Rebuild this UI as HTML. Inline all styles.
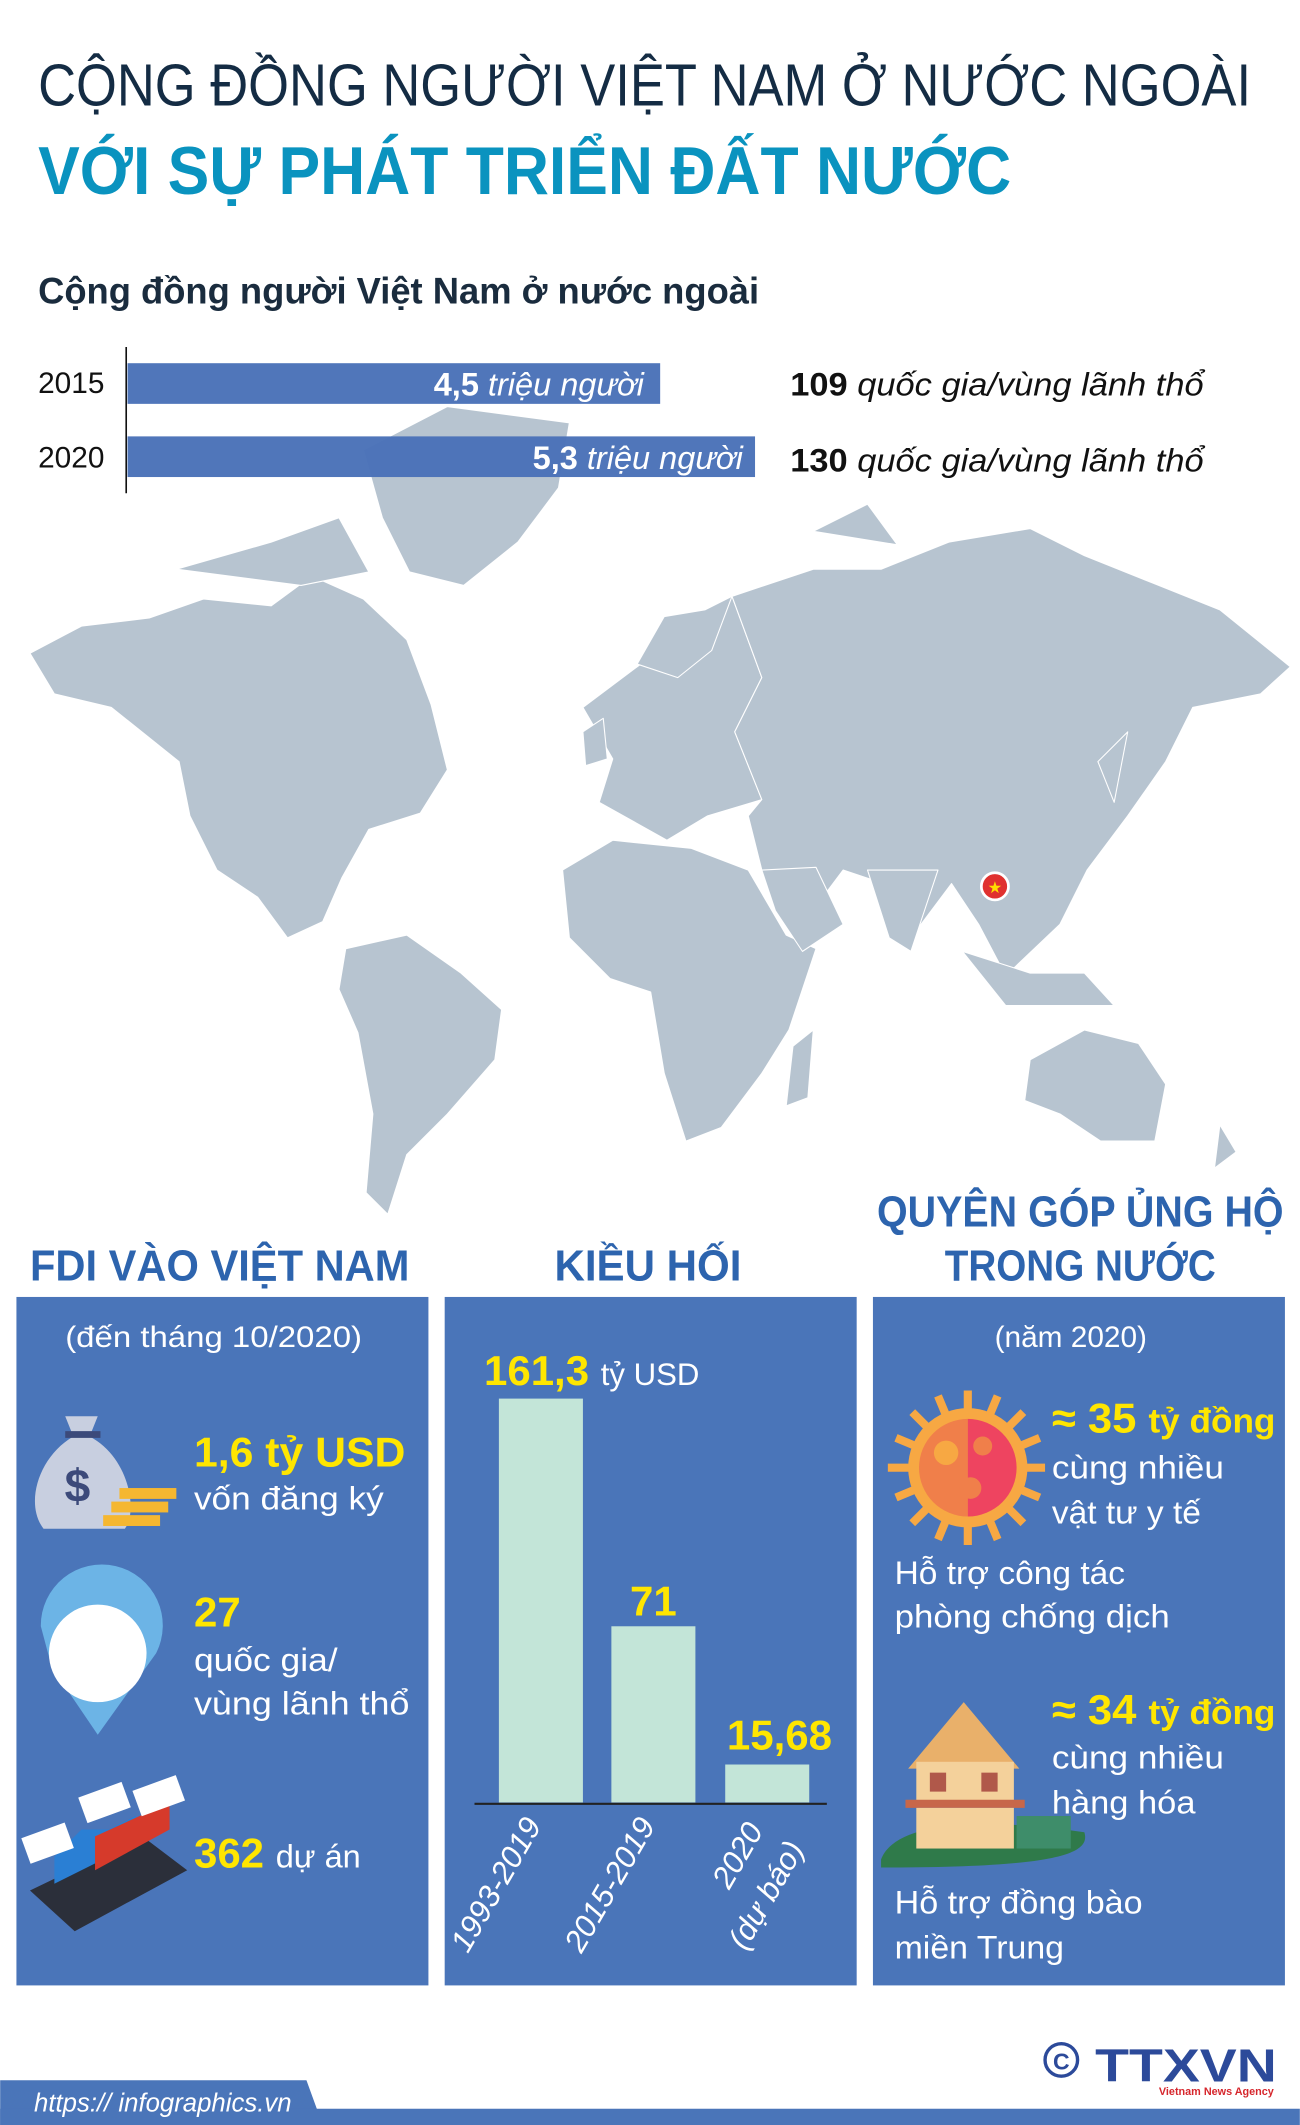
<!DOCTYPE html>
<html><head><meta charset="utf-8"><style>
html,body{margin:0;padding:0;background:#fff;}
svg{display:block;}
text{font-family:"Liberation Sans","DejaVu Sans",sans-serif;}
</style></head><body>
<svg width="1300" height="2125" viewBox="0 0 959 1568" xmlns="http://www.w3.org/2000/svg">
<rect width="959" height="1568" fill="#fff"/>
<!-- map -->
<g fill="#b7c4d0" stroke="#fff" stroke-width="0.8" stroke-linejoin="round">
<path d="M22,482 L60,462 L110,456 L150,442 L200,447 L230,425 L268,442 L300,472 L318,520 L330,568 L310,600 L272,612 L252,648 L238,680 L212,692 L190,662 L160,642 L140,602 L132,562 L82,522 L40,512 Z"/>
<path d="M268,332 L330,300 L420,312 L412,360 L382,400 L342,432 L302,422 L282,382 Z"/>
<path d="M130,420 L200,400 L250,382 L272,422 L222,432 Z"/>
<path d="M255,700 L300,690 L340,718 L370,745 L365,782 L330,822 L300,852 L286,896 L270,880 L275,822 L264,762 L250,730 Z"/>
<path d="M430,522 L470,492 L500,470 L540,440 L562,500 L542,540 L562,590 L522,602 L492,620 L442,592 L452,560 Z"/>
<path d="M470,490 L490,455 L520,450 L540,440 L525,480 L500,500 Z"/>
<path d="M415,642 L452,620 L510,626 L552,642 L580,690 L602,700 L582,760 L562,792 L532,832 L506,842 L490,792 L480,732 L450,722 L420,692 Z"/>
<path d="M585,772 L600,760 L596,810 L580,816 Z"/>
<path d="M540,440 L600,420 L650,420 L700,400 L760,390 L800,410 L850,430 L900,450 L952,492 L930,512 L880,522 L860,562 L832,602 L802,642 L782,682 L742,720 L722,682 L702,652 L672,692 L652,652 L622,642 L592,682 L562,642 L552,602 L562,590 L542,540 L562,500 Z"/>
<path d="M562,642 L602,640 L622,682 L592,702 L572,672 Z"/>
<path d="M640,642 L692,642 L672,702 L656,692 Z"/>
<path d="M710,702 L760,718 L800,718 L822,742 L742,742 Z"/>
<path d="M760,782 L800,760 L840,770 L860,800 L852,842 L812,842 L782,822 L756,812 Z"/>
<path d="M900,830 L912,850 L896,862 Z"/>
<path d="M810,562 L832,540 L822,592 Z"/>
<path d="M600,392 L640,372 L662,402 Z"/>
<path d="M430,540 L445,530 L448,560 L432,565 Z"/>
</g>
<circle cx="734" cy="654" r="10" fill="#e0312f" stroke="#fff" stroke-width="2"/>
<text x="734" y="659" font-size="12" fill="#ffdd00" text-anchor="middle">★</text>

<!-- titles -->
<text x="28" y="78" font-size="44" fill="#142c44" textLength="895" lengthAdjust="spacingAndGlyphs">CỘNG ĐỒNG NGƯỜI VIỆT NAM Ở NƯỚC NGOÀI</text>
<text x="28" y="143" font-size="50" font-weight="bold" fill="#0a93bf" textLength="718" lengthAdjust="spacingAndGlyphs">VỚI SỰ PHÁT TRIỂN ĐẤT NƯỚC</text>
<text x="28" y="224" font-size="27" font-weight="bold" fill="#1a2c3e" textLength="532" lengthAdjust="spacingAndGlyphs">Cộng đồng người Việt Nam ở nước ngoài</text>

<!-- bars -->
<line x1="93" y1="256" x2="93" y2="364" stroke="#111" stroke-width="1.2"/>
<rect x="94" y="268" width="393" height="30" fill="#4a72b8" opacity="0.97"/>
<rect x="94" y="322" width="463" height="30" fill="#4a72b8" opacity="0.97"/>
<text x="28" y="290" font-size="22" fill="#111">2015</text>
<text x="28" y="345" font-size="22" fill="#111">2020</text>
<text x="475" y="292" font-size="24" fill="#fff" text-anchor="end" font-style="italic"><tspan font-weight="bold" font-style="normal">4,5</tspan> triệu người</text>
<text x="548" y="346" font-size="24" fill="#fff" text-anchor="end" font-style="italic"><tspan font-weight="bold" font-style="normal">5,3</tspan> triệu người</text>
<text x="583" y="292" font-size="24" fill="#111" font-style="italic" textLength="305" lengthAdjust="spacingAndGlyphs"><tspan font-weight="bold" font-style="normal">109</tspan> quốc gia/vùng lãnh thổ</text>
<text x="583" y="348" font-size="24" fill="#111" font-style="italic" textLength="305" lengthAdjust="spacingAndGlyphs"><tspan font-weight="bold" font-style="normal">130</tspan> quốc gia/vùng lãnh thổ</text>

<!-- section headers -->
<g font-weight="bold" fill="#2d64ae" text-anchor="middle">
<text x="162" y="945" font-size="32" textLength="280" lengthAdjust="spacingAndGlyphs">FDI VÀO VIỆT NAM</text>
<text x="478" y="945" font-size="32" textLength="138" lengthAdjust="spacingAndGlyphs">KIỀU HỐI</text>
<text x="797" y="905" font-size="32" textLength="300" lengthAdjust="spacingAndGlyphs">QUYÊN GÓP ỦNG HỘ</text>
<text x="797" y="945" font-size="32" textLength="200" lengthAdjust="spacingAndGlyphs">TRONG NƯỚC</text>
</g>

<!-- panels -->
<rect x="12" y="957" width="304" height="508" fill="#4a75b9"/>
<rect x="328" y="957" width="304" height="508" fill="#4a75b9"/>
<rect x="644" y="957" width="304" height="508" fill="#4a75b9"/>

<!-- left panel -->
<text x="48" y="994" font-size="22" fill="#fff" textLength="219" lengthAdjust="spacingAndGlyphs">(đến tháng 10/2020)</text>
<path d="M48,1045 L72,1045 L66,1060 C95,1075 102,1115 92,1128 L32,1128 C18,1110 28,1075 54,1060 Z" fill="#c8cfe0"/>
<rect x="48" y="1056" width="26" height="5" fill="#3c4a7a"/>
<text x="57" y="1108" font-size="34" font-weight="bold" fill="#3c4a7a" text-anchor="middle">$</text>
<rect x="88" y="1098" width="42" height="8" fill="#f5b731"/><rect x="82" y="1108" width="42" height="8" fill="#f5b731"/><rect x="76" y="1118" width="42" height="8" fill="#f5b731"/>
<text x="143" y="1082" font-size="31" font-weight="bold" fill="#ffe600" textLength="156" lengthAdjust="spacingAndGlyphs">1,6 tỷ USD</text>
<text x="143" y="1114" font-size="24" fill="#fff" textLength="140" lengthAdjust="spacingAndGlyphs">vốn đăng ký</text>
<path d="M30,1200 A45,45 0 1 1 115,1220 L72,1280 L38,1230 Z" fill="#6cb4e6"/>
<circle cx="72" cy="1220" r="36" fill="#fff"/>
<text x="143" y="1200" font-size="31" font-weight="bold" fill="#ffe600">27</text>
<text x="143" y="1233" font-size="24" fill="#fff" textLength="106" lengthAdjust="spacingAndGlyphs">quốc gia/</text>
<text x="143" y="1265" font-size="24" fill="#fff" textLength="159" lengthAdjust="spacingAndGlyphs">vùng lãnh thổ</text>
<path d="M22,1395 L105,1355 L138,1380 L55,1425 Z" fill="#2b2f3a"/>
<path d="M40,1390 L100,1360 L100,1340 L80,1350 L60,1350 L40,1370 Z" fill="#2a7fd4"/>
<path d="M70,1380 L125,1350 L125,1330 L70,1355 Z" fill="#d63a2b"/>
<rect x="18" y="1350" width="34" height="20" fill="#fff" transform="rotate(-20 35 1360)"/>
<rect x="60" y="1320" width="34" height="20" fill="#fff" transform="rotate(-20 77 1330)"/>
<rect x="100" y="1315" width="34" height="20" fill="#fff" transform="rotate(-20 117 1325)"/>
<text x="143" y="1378" font-size="31" font-weight="bold" fill="#ffe600">362 <tspan font-size="24" font-weight="normal" fill="#fff">dự án</tspan></text>

<!-- middle chart -->
<rect x="368" y="1032" width="62" height="298" fill="#c3e5d8"/>
<rect x="451" y="1200" width="62" height="130" fill="#c3e5d8"/>
<rect x="535" y="1302" width="62" height="28" fill="#c3e5d8"/>
<line x1="350" y1="1331" x2="610" y2="1331" stroke="#222" stroke-width="1.5"/>
<text x="357" y="1022" font-size="31" font-weight="bold" fill="#ffe600">161,3 <tspan font-size="23" font-weight="normal" fill="#fff">tỷ USD</tspan></text>
<text x="482" y="1192" font-size="31" font-weight="bold" fill="#ffe600" text-anchor="middle">71</text>
<text x="575" y="1291" font-size="31" font-weight="bold" fill="#ffe600" text-anchor="middle">15,68</text>
<g font-size="23" fill="#fff" font-style="italic">
<text transform="translate(345,1442) rotate(-60)">1993-2019</text>
<text transform="translate(429,1442) rotate(-60)">2015-2019</text>
<text transform="translate(538,1395) rotate(-60)">2020</text>
<text transform="translate(550,1440) rotate(-60)">(dự báo)</text>
</g>

<!-- right panel -->
<text x="790" y="994" font-size="22" fill="#fff" text-anchor="middle">(năm 2020)</text>
<g fill="#f7a843">
<g stroke="#f7a843" stroke-width="6" stroke-linecap="butt">
<line x1="714" y1="1026" x2="714" y2="1140"/><line x1="655" y1="1083" x2="771" y2="1083"/>
<line x1="673" y1="1042" x2="755" y2="1124"/><line x1="755" y1="1042" x2="673" y2="1124"/>
<line x1="692" y1="1030" x2="736" y2="1136"/><line x1="736" y1="1030" x2="692" y2="1136"/>
<line x1="661" y1="1061" x2="767" y2="1105"/><line x1="767" y1="1061" x2="661" y2="1105"/>
</g>
<circle cx="714" cy="1083" r="44"/>
</g>
<path d="M714,1047 A36,36 0 0 0 714,1119 Z" fill="#f07f4a"/>
<path d="M714,1047 A36,36 0 0 1 714,1119 Z" fill="#ee4460"/>
<circle cx="698" cy="1072" r="9" fill="#f7a843"/><circle cx="725" cy="1067" r="7" fill="#f07f4a"/><circle cx="716" cy="1098" r="8" fill="#f07f4a"/>
<text x="776" y="1057" font-size="31" font-weight="bold" fill="#ffe600" textLength="165" lengthAdjust="spacingAndGlyphs">≈ 35 <tspan font-size="25">tỷ đồng</tspan></text>
<text x="776" y="1091" font-size="24" fill="#fff" textLength="127" lengthAdjust="spacingAndGlyphs">cùng nhiều</text>
<text x="776" y="1124" font-size="24" fill="#fff" textLength="110" lengthAdjust="spacingAndGlyphs">vật tư y tế</text>
<text x="660" y="1169" font-size="24" fill="#fff" textLength="170" lengthAdjust="spacingAndGlyphs">Hỗ trợ công tác</text>
<text x="660" y="1201" font-size="24" fill="#fff" textLength="203" lengthAdjust="spacingAndGlyphs">phòng chống dịch</text>
<path d="M650,1372 C660,1345 720,1340 800,1352 C805,1368 780,1378 650,1378 Z" fill="#2f7a4a"/>
<path d="M711,1256 L752,1305 L670,1305 Z" fill="#e9b06a"/>
<rect x="676" y="1300" width="72" height="30" fill="#f4d19b"/>
<rect x="668" y="1328" width="88" height="6" fill="#c7674a"/>
<rect x="676" y="1334" width="72" height="30" fill="#f4d19b"/>
<rect x="686" y="1308" width="12" height="14" fill="#b0584a"/><rect x="724" y="1308" width="12" height="14" fill="#b0584a"/>
<rect x="750" y="1340" width="40" height="24" fill="#3e8d6a"/>
<text x="776" y="1272" font-size="31" font-weight="bold" fill="#ffe600" textLength="165" lengthAdjust="spacingAndGlyphs">≈ 34 <tspan font-size="25">tỷ đồng</tspan></text>
<text x="776" y="1305" font-size="24" fill="#fff" textLength="127" lengthAdjust="spacingAndGlyphs">cùng nhiều</text>
<text x="776" y="1338" font-size="24" fill="#fff" textLength="106" lengthAdjust="spacingAndGlyphs">hàng hóa</text>
<text x="660" y="1412" font-size="24" fill="#fff" textLength="183" lengthAdjust="spacingAndGlyphs">Hỗ trợ đồng bào</text>
<text x="660" y="1445" font-size="24" fill="#fff" textLength="125" lengthAdjust="spacingAndGlyphs">miền Trung</text>

<!-- footer -->
<path d="M0,1535 L226,1535 L238,1568 L0,1568 Z" fill="#4a75b9"/>
<rect x="0" y="1556" width="959" height="12" fill="#4a75b9"/>
<text x="25" y="1558" font-size="19" fill="#fff" font-style="italic">https:// infographics.vn</text>
<circle cx="783" cy="1520" r="12" fill="none" stroke="#2c4a9a" stroke-width="2.5"/>
<text x="783" y="1527" font-size="17" font-weight="bold" fill="#2c4a9a" text-anchor="middle">C</text>
<text x="808" y="1536" font-size="34" font-weight="bold" fill="#2c4a9a" textLength="134" lengthAdjust="spacingAndGlyphs">TTXVN</text>
<text x="855" y="1546" font-size="8" font-weight="bold" fill="#d6262c">Vietnam News Agency</text>
</svg>
</body></html>
